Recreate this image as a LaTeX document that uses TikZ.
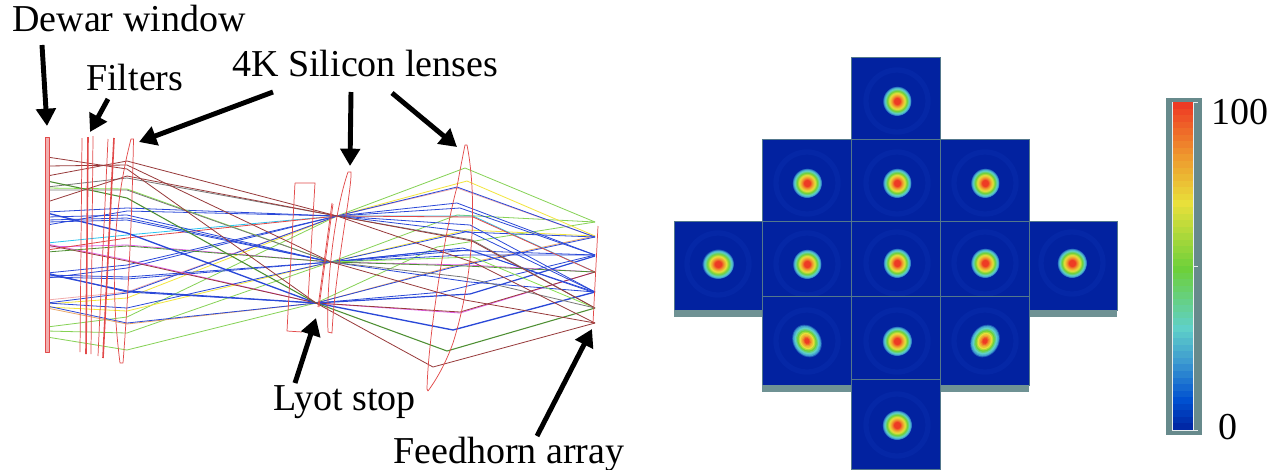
\documentclass[tikz,border=0pt]{standalone}
\usepackage{fontspec}
\setmainfont{Liberation Serif}
\usetikzlibrary{arrows.meta}
\definecolor{tileblue}{HTML}{0222A0}
\definecolor{ringblue}{HTML}{0527A6}
\definecolor{tileedge}{HTML}{54788C}
\definecolor{footgray}{HTML}{6F9294}
\definecolor{barframe}{HTML}{678A8C}
\definecolor{optred}{HTML}{E24A4A}
\definecolor{rred}{HTML}{E04848}
\definecolor{rbrown}{HTML}{97393A}
\definecolor{rgray}{HTML}{777777}
\definecolor{rgreen}{HTML}{86D256}
\definecolor{rlime}{HTML}{88E050}
\definecolor{rdkgreen}{HTML}{4E8F33}
\definecolor{rblue}{HTML}{2A48D8}
\definecolor{rcyan}{HTML}{28C4F0}
\definecolor{rmag}{HTML}{E060E8}
\definecolor{rpink}{HTML}{F2AAAA}
\definecolor{ryellow}{HTML}{F2E53C}
\definecolor{rorange}{HTML}{EBA868}
\definecolor{jA}{HTML}{001E9B}
\definecolor{jB}{HTML}{0050D0}
\definecolor{jC}{HTML}{3E9CD0}
\definecolor{jD}{HTML}{5FD0C8}
\definecolor{jE}{HTML}{6DD03A}
\definecolor{jF}{HTML}{E8E03A}
\definecolor{jG}{HTML}{EE9A2E}
\definecolor{jH}{HTML}{EE3B24}
\pgfdeclareradialshading{beamspot}{\pgfpoint{0bp}{0bp}}{
 color(0bp)=(jH); color(5bp)=(jH); color(9bp)=(jG); color(13bp)=(jF);
 color(17bp)=(jE); color(20.5bp)=(jD); color(23bp)=(jC); color(25bp)=(tileblue); color(50bp)=(tileblue)}
\tikzset{
 label text/.style={font=\fontsize{28.5}{30}\selectfont,inner sep=0pt,anchor=base west,text=black},
 callout/.style={line width=3.7pt,black,-{Triangle[length=13pt,width=14.5pt]}},
 optic/.style={draw=optred,line width=.55pt,line join=round},
 optic heavy/.style={draw=optred,line width=1.2pt},
 rayline/.style={line width=.6pt,line join=round},
 tile/.style={fill=tileblue,draw=tileedge,line width=.7pt},
 foot/.style={fill=footgray,draw=none},
 ring/.style={draw=ringblue,line width=4pt}
}
% colour, window y, lens y, crossing, lens3 x, lens3 y, focal y
\newcommand\raypath[7]{\draw[rayline,#1] (47,#2) -- (127,#3) -- (#4) -- (#5,#6) -- (595,#7);}
\newcommand\beamtile[6]{% x0,y0,x1,y1,spot x,spot y
 \fill[tileblue] (#1,#2) rectangle (#3,#4);
 \begin{scope}
 \clip (#1,#2) rectangle (#3,#4);
 \draw[ring] (#5,#6) circle[radius=31];
 \end{scope}
 \draw[tile,fill=none] (#1,#2) rectangle (#3,#4);}
\newcommand\beamspot[3]{% x,y,rx
 \shade[shading=beamspot] (#1,#2) ellipse[x radius=#3,y radius=15];}
\newcommand\tiltspot[3]{% x,y,rotate: an elongated spot built from nested ellipses
 \begin{scope}[rotate around={#3:(#1,#2)}]
 \foreach \sc/\cc in {1.00/jC!45!tileblue,.94/jC,.88/jC!50!jD,.82/jD,.74/jD!50!jE,.66/jE,.58/jE!50!jF,.50/jF,.42/jF!50!jG,.34/jG,.26/jG!50!jH,.18/jH}{
   \fill[color=\cc] (#1,#2) ellipse[x radius=14*\sc,y radius=17*\sc];
 }
 \end{scope}}
\begin{document}
\begin{tikzpicture}[x=0.75pt,y=-0.75pt]
\useasboundingbox (0,0) rectangle (1273,469);
\fill[white] (0,0) rectangle (1273,469);
% crossings
\coordinate (ct) at (337,216);
\coordinate (cm) at (331,262);
\coordinate (cb) at (316,303);
% rays: field 1 green
\raypath{rgreen}{327}{317}{ct}{465}{168}{222}
\raypath{rgreen}{331}{333}{cm}{457}{215}{222}
\raypath{rgreen}{337}{350}{cb}{437}{247}{222}
% field 2 yellow, pink, blue
\raypath{ryellow}{304}{298}{ct}{467}{181}{236}
\raypath{ryellow}{307}{311}{cm}{467}{230}{236}
\raypath{rorange}{308}{324}{cb}{450}{267}{236}
\raypath{rpink}{300}{292}{ct}{457}{188}{237}
\raypath{rblue}{303}{293}{ct}{457}{187}{237}
\raypath{rblue}{303}{308}{cm}{465}{232}{237}
\raypath{rblue}{306}{323}{cb}{450}{268}{237}
% field 3 blue
\raypath{rblue}{273}{265}{ct}{457}{203}{255}
\raypath{rblue}{275}{277}{cm}{447}{250}{255}
\raypath{rblue}{273}{292}{cb}{443}{292}{255}
\raypath{rblue}{278}{268}{ct}{460}{208}{255}
\raypath{rblue}{277}{279}{cm}{465}{255}{255}
\raypath{rblue,line width=.9pt}{274}{291}{cb}{470}{294}{256}
% field 4 magenta, cyan
\raypath{rcyan}{243}{235}{ct}{473}{216}{272}
\raypath{rmag}{247}{245}{cm}{467}{265}{272}
\raypath{rmag}{244}{260}{cb}{460}{313}{272}
\raypath{rred}{250}{238}{ct}{473}{217}{272}
\raypath{rbrown}{245}{261}{cb}{460}{312}{272}
\raypath{rdkgreen}{252}{246}{cm}{465}{266}{272}
% field 5 blue
\raypath{rblue}{212}{208}{ct}{470}{225}{292}
\raypath{rblue}{217}{215}{cm}{470}{282}{292}
\raypath{rblue,line width=1pt}{213}{233}{cb}{453}{330}{292}
\raypath{rblue}{225}{211}{ct}{470}{232}{292}
\raypath{rblue}{220}{218}{cm}{463}{248}{292}
\raypath{rblue}{222}{220}{cm}{470}{250}{293}
% field 6 gray, green
\raypath{rgray}{187}{178}{ct}{472}{240}{308}
\raypath{rlime}{188}{189}{cm}{473}{257}{308}
\raypath{rdkgreen,line width=.8pt}{181}{198}{cb}{447}{351}{308}
\raypath{rbrown}{202}{176}{ct}{472}{241}{308}
\raypath{rgray}{190}{190}{cm}{463}{277}{308}
% field 7 brown
\raypath{rbrown}{176}{161}{ct}{475}{263}{323}
\raypath{rbrown}{166}{165}{cm}{465}{300}{323}
\raypath{rbrown}{157}{169}{cb}{433}{367}{323}
% optics
\fill[optred!45] (45.5,137) -- (49,137) -- (49,352) -- (45.5,352) -- cycle;
\draw[optic] (45.5,137) -- (49,137) -- (49,352) -- (45.5,352) -- cycle;
\draw[optic] (82,138) -- (80,352);
\draw[optic heavy] (88,137) -- (86,354);
\draw[optic] (93,136) -- (91,354);
\draw[optic] (108,139) -- (98,356);
\draw[optic heavy] (114,138) -- (103,358);
\draw[optic] (131,139) -- (133.5,139) .. controls (132,220) and (128,300) .. (123,363) -- (120,363) .. controls (112,300) and (110,220) .. cycle;
\draw[optic] (295,183) -- (315,183) -- (308,300);
\draw[optic] (295,183) -- (287,331) -- (302,332);
\draw[optic] (332,203) -- (318,307);
\draw[optic] (333,204) -- (319,307);
\draw[optic] (348,172) -- (351,172) .. controls (352,190) and (335,270) .. (332,333) -- (328,332) .. controls (326,280) and (335,210) .. cycle;
\draw[optic] (465,145) -- (467,145) .. controls (476,190) and (476,270) .. (453,343) .. controls (445,365) and (436,380) .. (428,391) -- (427,389) .. controls (428,340) and (445,230) .. (457,187) .. controls (460,170) and (463,155) .. cycle;
\draw[optic] (598,226) -- (593,323);
% tiles
\beamtile{674}{221}{762}{310}{718}{264}
\fill[foot] (674,310) rectangle (762,317);
\beamtile{1029}{221}{1117}{310}{1072}{263}
\fill[foot] (1029,310) rectangle (1117,317);
\beamtile{762}{221}{851}{310}{807}{264}
\beamtile{851}{221}{940}{310}{897}{263}
\beamtile{940}{221}{1029}{310}{985}{263}
\beamtile{762}{296}{851}{385}{807}{341}
\fill[foot] (762,385) rectangle (851,392);
\beamtile{851}{296}{940}{385}{897}{341}
\fill[foot] (851,385) rectangle (940,392);
\beamtile{940}{296}{1029}{385}{985}{341}
\fill[foot] (940,385) rectangle (1029,392);
\beamtile{851}{379}{940}{469}{897}{425}
\beamtile{851}{57}{940}{139}{897}{101}
\beamtile{762}{139}{851}{221}{807}{183}
\beamtile{851}{139}{940}{221}{897}{183}
\beamtile{940}{139}{1029}{221}{985}{183}
\beamspot{718}{264}{16}
\beamspot{1072}{263}{15}
\tiltspot{807}{341}{30}
\beamspot{897}{341}{15}
\tiltspot{985}{341}{-30}
\beamspot{897}{425}{15}
\beamspot{897}{101}{14.5}
\beamspot{807}{183}{15}
\beamspot{897}{183}{14.5}
\beamspot{985}{183}{14.5}
\beamspot{807}{264}{14.5}
\beamspot{897}{263}{14}
\beamspot{985}{263}{14.5}
% colour bar
\fill[barframe] (1166,98) rectangle (1202,435);
\draw[white!85!barframe,line width=.6pt] (1172.5,102) rectangle (1193.5,430);
\draw[white!85!barframe,line width=.6pt] (1193.5,102) -- (1198,102) (1193.5,266) -- (1198,266) (1193.5,430) -- (1198,430);
\newcounter{bandno}
\foreach \ca/\cz/\n in {jH/jG/8,jG/jF/7,jF/jE/10,jE/jD/9,jD/jC/5,jC/jB/6,jB/jA/5}{
  \foreach \k in {1,...,\n}{
    \pgfmathsetmacro{\pp}{100*(\k-1)/\n}
    \pgfmathsetmacro{\ya}{102+6.56*\thebandno}
    \pgfmathsetmacro{\yb}{\ya+6.7}
    \fill[color=\cz!\pp!\ca] (1173,\ya) rectangle (1193,\yb);
    \stepcounter{bandno}
  }
}
% labels
\node[label text] (dewar) at (12,31) {Dewar window};
\node[label text] (filters) at (86,90) {Filters};
\node[label text] (silicon) at (232,76) {4K Silicon lenses};
\node[label text] (lyot) at (273,410) {Lyot stop};
\node[label text] (feed) at (393,463) {Feedhorn array};
\node[label text] (max) at (1211,124) {100};
\node[label text] (min) at (1218,439) {0};
% arrows
\coordinate (dewartail) at (42,45);
\coordinate (filtertail) at (108,99);
\coordinate (lensatail) at (273,92);
\coordinate (lensbtail) at (351,92);
\coordinate (lensctail) at (392,93);
\coordinate (lyottail) at (295,383);
\coordinate (feedtail) at (537,436);
\coordinate (dewartip) at (47,126);
\coordinate (filtertip) at (90,132);
\coordinate (lensatip) at (139,142);
\coordinate (lensbtip) at (350,166);
\coordinate (lensctip) at (457,147);
\coordinate (lyottip) at (316,318);
\coordinate (feedtip) at (592,329);
\draw[callout] (dewartail) -- (dewartip);
\draw[callout] (filtertail) -- (filtertip);
\draw[callout] (lensatail) -- (lensatip);
\draw[callout] (lensbtail) -- (lensbtip);
\draw[callout] (lensctail) -- (lensctip);
\draw[callout] (lyottail) -- (lyottip);
\draw[callout] (feedtail) -- (feedtip);
\end{tikzpicture}
\end{document}
